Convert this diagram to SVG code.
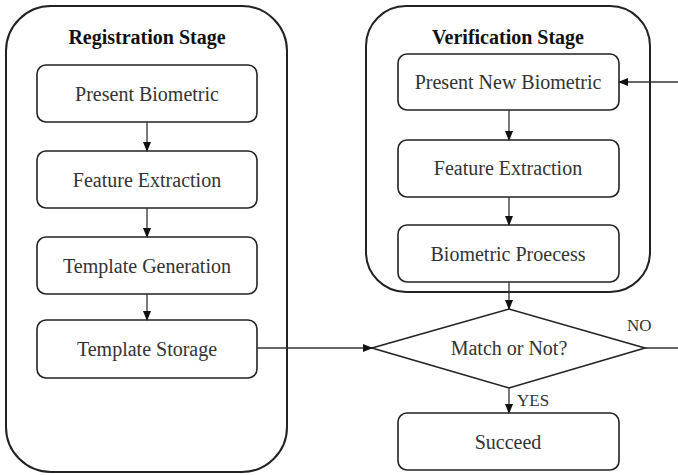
<svg xmlns="http://www.w3.org/2000/svg" width="678" height="475" viewBox="0 0 678 475">
<style>
.stage{fill:#fff;stroke:#222;stroke-width:2}
.box{fill:#fff;stroke:#222;stroke-width:1.6}
.t{font-family:'Liberation Serif','Times New Roman','DejaVu Serif',serif;font-size:20px;fill:#333;text-anchor:middle;dominant-baseline:central}
.h{font-family:'Liberation Serif','Times New Roman','DejaVu Serif',serif;font-size:20px;font-weight:bold;fill:#111;text-anchor:middle;dominant-baseline:central}
.s{font-family:'Liberation Serif','Times New Roman','DejaVu Serif',serif;font-size:17px;fill:#333;dominant-baseline:central}
.c{stroke:#333;stroke-width:1.3;fill:none;marker-end:url(#ah)}
.l{stroke:#333;stroke-width:1.3;fill:none}
</style>
<defs>
<marker id="ah" markerWidth="10" markerHeight="8" refX="9" refY="4" orient="auto" markerUnits="userSpaceOnUse">
<path d="M0,0 L10,4 L0,8 Z" fill="#111"/>
</marker>
</defs>
<g id="registration">
<rect class="stage" x="6" y="6" width="281" height="466" rx="45"/>
<text class="h" x="147" y="37">Registration Stage</text>
</g>
<g id="verification">
<rect class="stage" x="366" y="6" width="284" height="286" rx="40"/>
<text class="h" x="508" y="37">Verification Stage</text>
</g>
<g id="present-biometric"><rect class="box" x="37" y="65" width="220" height="57" rx="9"/><text class="t" x="147" y="94">Present Biometric</text></g>
<g id="feature-extraction-1"><rect class="box" x="37" y="151" width="220" height="57" rx="9"/><text class="t" x="147" y="180">Feature Extraction</text></g>
<g id="template-generation"><rect class="box" x="37" y="237" width="220" height="57" rx="9"/><text class="t" x="147" y="266">Template Generation</text></g>
<g id="template-storage"><rect class="box" x="37" y="320" width="220" height="58" rx="9"/><text class="t" x="147" y="349">Template Storage</text></g>
<g id="present-new-biometric"><rect class="box" x="398" y="54" width="221" height="56" rx="9"/><text class="t" x="508" y="82">Present New Biometric</text></g>
<g id="feature-extraction-2"><rect class="box" x="398" y="140" width="221" height="57" rx="9"/><text class="t" x="508" y="168">Feature Extraction</text></g>
<g id="biometric-process"><rect class="box" x="398" y="225" width="221" height="57" rx="9"/><text class="t" x="508" y="254">Biometric Proecess</text></g>
<g id="match"><polygon class="box" points="372,348 509,309 645,348 509,388"/><text class="t" x="509" y="348">Match or Not?</text></g>
<g id="succeed"><rect class="box" x="398" y="413" width="221" height="57" rx="9"/><text class="t" x="508" y="442">Succeed</text></g>
<g id="connectors">
<line class="c" x1="147" y1="122" x2="147" y2="151"/>
<line class="c" x1="147" y1="208" x2="147" y2="237"/>
<line class="c" x1="147" y1="294" x2="147" y2="320"/>
<line class="c" x1="257" y1="348" x2="372" y2="348"/>
<line class="c" x1="678" y1="82" x2="619" y2="82"/>
<line class="c" x1="509" y1="110" x2="509" y2="140"/>
<line class="c" x1="509" y1="197" x2="509" y2="225"/>
<line class="c" x1="509" y1="282" x2="509" y2="309"/>
<line class="c" x1="509" y1="388" x2="509" y2="413"/>
<line class="l" x1="645" y1="348" x2="678" y2="348"/>
<text class="s" x="517" y="400">YES</text>
<text class="s" x="627" y="325">NO</text>
</g>
</svg>
